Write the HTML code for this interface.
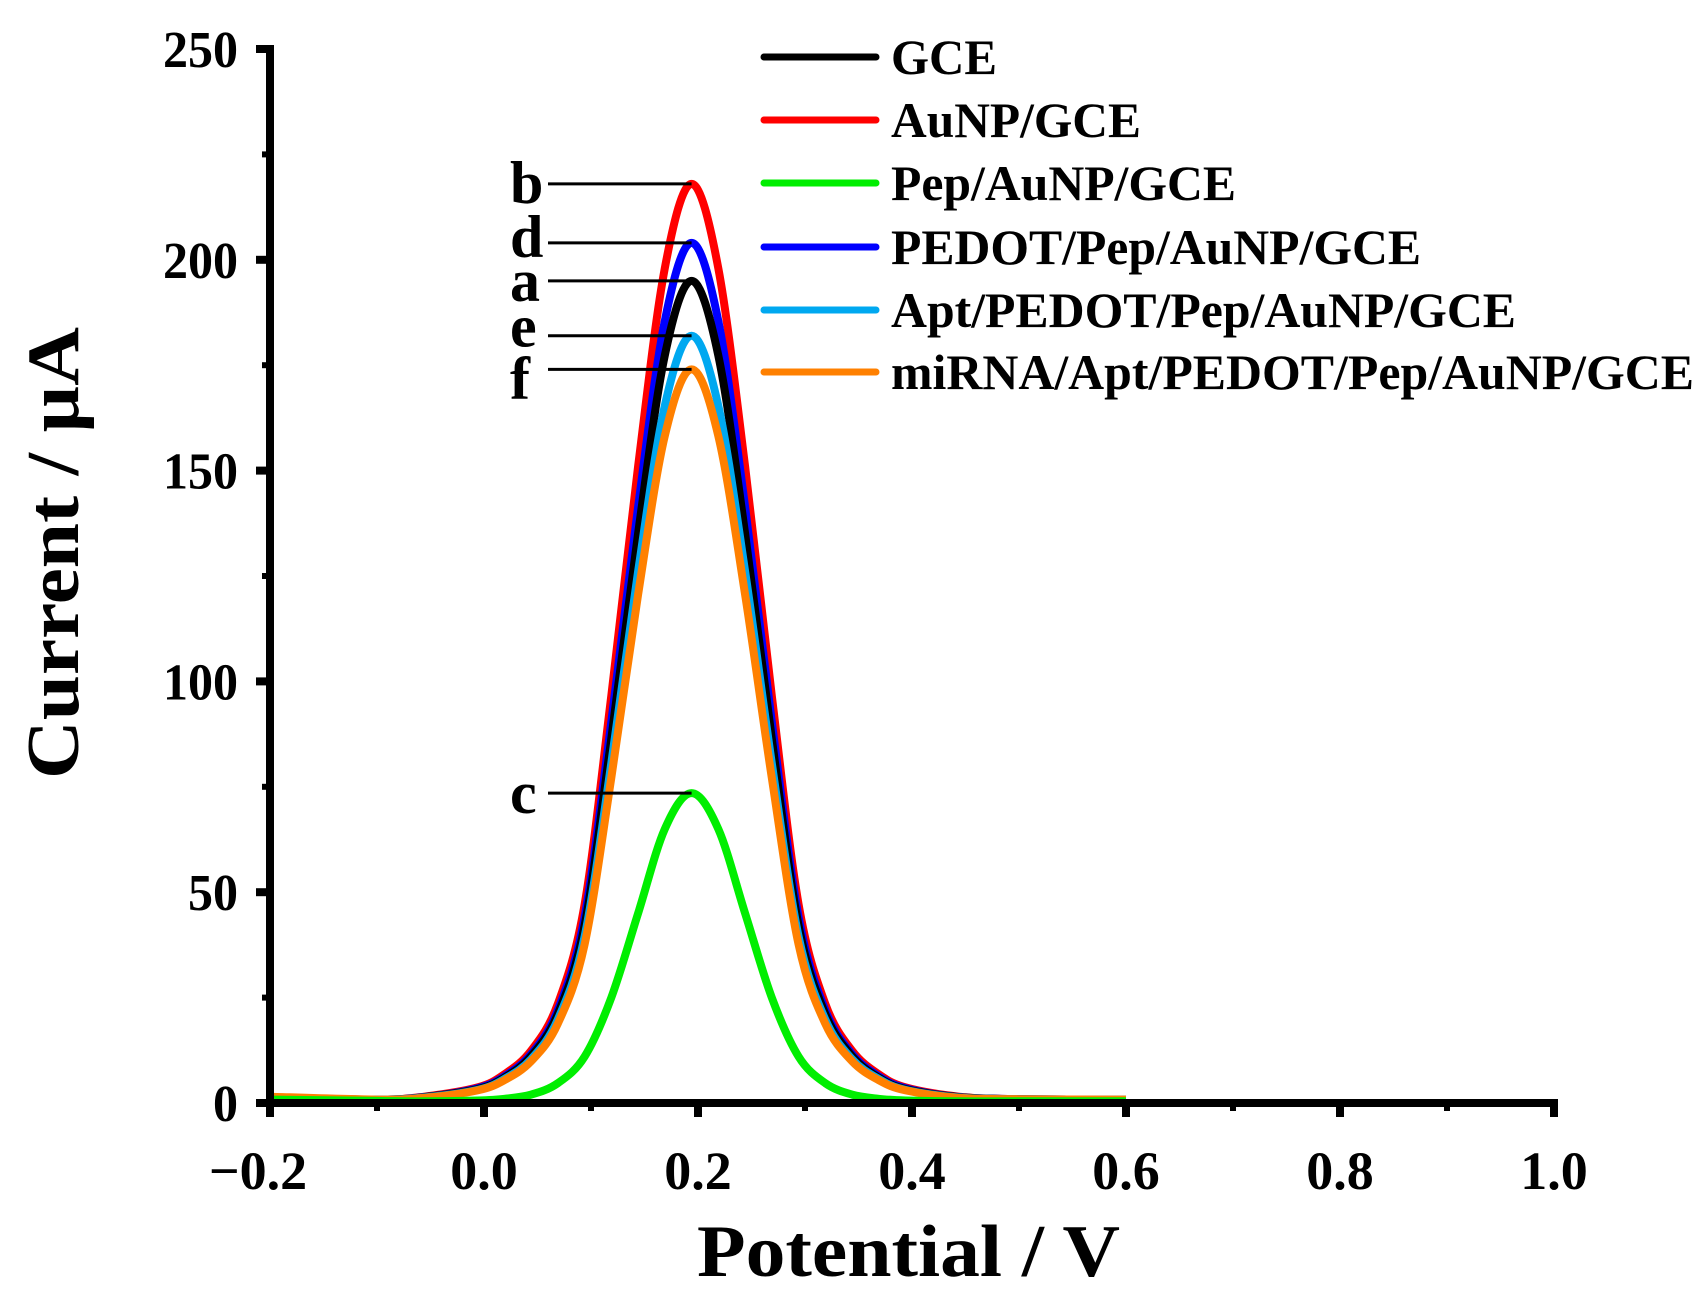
<!DOCTYPE html>
<html><head><meta charset="utf-8"><style>
html,body{margin:0;padding:0;background:#fff}
svg{display:block}
text{font-family:"Liberation Serif",serif;font-weight:bold;fill:#000}
</style></head><body>
<svg id="chart" width="1707" height="1309" viewBox="0 0 1707 1309">
<g id="plot"></g>
</svg>
<script>
const potentials = [-0.2, -0.1, -0.056, -0.006, 0.019, 0.044, 0.069, 0.094, 0.119, 0.144, 0.169, 0.194, 0.219, 0.244, 0.269, 0.294, 0.319, 0.344, 0.369, 0.394, 0.444, 0.5, 0.6];
const seriesNames = ["GCE", "AuNP/GCE", "Pep/AuNP/GCE", "PEDOT/Pep/AuNP/GCE", "Apt/PEDOT/Pep/AuNP/GCE", "miRNA/Apt/PEDOT/Pep/AuNP/GCE"];
const seriesLetters = ["a", "b", "c", "d", "e", "f"];
const seriesColors = ["#000000", "#ff0000", "#00ee00", "#0000ff", "#00a8f0", "#ff8000"];
const curA = [1.2, 0.8, 1.4, 3.3, 6.0, 11.1, 21.1, 42.1, 86.4, 135.1, 177.3, 195, 177.3, 135.1, 86.4, 42.1, 21.1, 11.1, 6.0, 3.3, 1.4, 0.9, 0.8];
const curB = [1.3, 0.8, 1.5, 3.7, 6.8, 12.4, 23.5, 47.1, 96.6, 151, 198, 218, 198, 151, 96.6, 47.1, 23.5, 12.4, 6.8, 3.7, 1.5, 0.9, 0.8];
const curC = [0.8, 0.5, 0.4, 0.6, 1.0, 2.0, 4.7, 11, 25, 45, 65, 73.5, 65, 45, 25, 11, 4.7, 2.0, 1.0, 0.6, 0.4, 0.4, 0.4];
const curD = [1.3, 0.8, 1.4, 3.5, 6.3, 11.6, 22.0, 44.1, 90.4, 141.4, 185.5, 204, 185.5, 141.4, 90.4, 44.1, 22.0, 11.6, 6.3, 3.5, 1.4, 0.9, 0.8];
const curE = [1.2, 0.8, 1.3, 3.1, 5.7, 10.4, 19.8, 39.5, 80.6, 126.1, 165.4, 182, 165.4, 126.1, 80.6, 39.5, 19.8, 10.4, 5.7, 3.1, 1.3, 0.9, 0.8];
const curF = [1.5, 0.8, 1.2, 3.0, 5.4, 9.9, 18.8, 37.6, 77.1, 120.6, 158.2, 174, 158.2, 120.6, 77.1, 37.6, 18.8, 9.9, 5.4, 3.0, 1.2, 0.9, 0.8];
const allSeries = [curA, curB, curC, curD, curE, curF];
const drawOrder = [1, 3, 0, 4, 5, 2];
const xTicks = [-0.2, 0.0, 0.2, 0.4, 0.6, 0.8, 1.0];
const xTickLabels = ["\u22120.2", "0.0", "0.2", "0.4", "0.6", "0.8", "1.0"];
const yTicks = [0, 50, 100, 150, 200, 250];
const yTickLabels = ["0", "50", "100", "150", "200", "250"];

const letterDy = [20, 19, 20, 14, 11, 29];
const X0 = 270, XS = 1070, Y0 = 1103, YS = 1054 / 250;
const xs = v => X0 + (v + 0.2) * XS;
const ys = v => Y0 - v * YS;
const NS = "http://www.w3.org/2000/svg";
const plot = document.getElementById("plot");
function mk(tag, attrs, parent) {
  const e = document.createElementNS(NS, tag);
  for (const k in attrs) e.setAttribute(k, attrs[k]);
  (parent || plot).appendChild(e);
  return e;
}
function smoothPath(pts) {
  let d = "M" + pts[0][0].toFixed(1) + "," + pts[0][1].toFixed(1);
  for (let i = 0; i < pts.length - 1; i++) {
    const p0 = pts[i - 1] || pts[i], p1 = pts[i], p2 = pts[i + 1], p3 = pts[i + 2] || p2;
    const c1 = [p1[0] + (p2[0] - p0[0]) / 6, p1[1] + (p2[1] - p0[1]) / 6];
    const c2 = [p2[0] - (p3[0] - p1[0]) / 6, p2[1] - (p3[1] - p1[1]) / 6];
    d += " C" + c1[0].toFixed(1) + "," + c1[1].toFixed(1) + " " + c2[0].toFixed(1) + "," + c2[1].toFixed(1) + " " + p2[0].toFixed(1) + "," + p2[1].toFixed(1);
  }
  return d;
}

// curves
drawOrder.forEach(i => {
  const pts = potentials.map((p, j) => [xs(p), ys(allSeries[i][j])]);
  const path = mk("path", {d: smoothPath(pts), fill: "none", stroke: seriesColors[i], "stroke-width": 8, "stroke-linejoin": "round"});
  
  
});

// axes
const axes = mk("path", {d: "M" + X0 + "," + ys(250) + " L" + X0 + "," + Y0 + " L" + xs(1.0) + "," + Y0, fill: "none", stroke: "#000", "stroke-width": 8, "stroke-linecap": "square"});


xTicks.forEach((t, i) => {
  const tk = mk("line", {x1: xs(t), x2: xs(t), y1: Y0, y2: Y0 + 14, stroke: "#000", "stroke-width": 8});
  
  
  if (i < xTicks.length - 1) {
    const mn = mk("line", {x1: xs(t + 0.1), x2: xs(t + 0.1), y1: Y0, y2: Y0 + 8, stroke: "#000", "stroke-width": 6});
    
    
  }
  const lb = mk("text", {x: xs(t) + (i === 0 ? -12 : 0), y: 1189, "font-size": 54, "text-anchor": "middle"});
  lb.textContent = xTickLabels[i];
  
  
});
yTicks.forEach((t, i) => {
  const tk = mk("line", {x1: X0 - 14, x2: X0, y1: ys(t), y2: ys(t), stroke: "#000", "stroke-width": 8});
  
  
  if (i < yTicks.length - 1) {
    const mn = mk("line", {x1: X0 - 8, x2: X0, y1: ys(t + 25), y2: ys(t + 25), stroke: "#000", "stroke-width": 6});
    
    
  }
  const lb = mk("text", {x: 238, y: ys(t) + 18, "font-size": 52, "text-anchor": "end", textLength: 25 * yTickLabels[i].length, lengthAdjust: "spacingAndGlyphs"});
  lb.textContent = yTickLabels[i];
  
  
});

const xt = mk("text", {x: 697, y: 1276, "font-size": 74, textLength: 423, lengthAdjust: "spacingAndGlyphs"});
xt.textContent = "Potential / V";


const yt = mk("text", {x: 0, y: 0, "font-size": 74, "text-anchor": "middle", transform: "translate(78,553) rotate(-90)", textLength: 452, lengthAdjust: "spacingAndGlyphs"});
yt.textContent = "Current / \u00b5A";



// peak annotations
allSeries.forEach((s, i) => {
  const peak = Math.max(...s);
  const py = ys(peak);
  const pk = potentials[s.indexOf(peak)];
  const ln = mk("line", {x1: 548, x2: xs(pk), y1: py, y2: py, stroke: "#000", "stroke-width": 3});
  
  
  const lt = mk("text", {x: 510, y: py + letterDy[i], "font-size": 60});
  lt.textContent = seriesLetters[i];
  
  
});

// legend
const legendRows = [57, 120, 183, 247, 310, 372];
const legendWidths = [106, 250, 345, 530, 625, 803];
const legend = mk("g", {});


seriesNames.forEach((n, i) => {
  const y = legendRows[i];
  const l = mk("line", {x1: 764, x2: 876, y1: y, y2: y, stroke: seriesColors[i], "stroke-width": 7, "stroke-linecap": "round"}, legend);
  
  
  const t = mk("text", {x: 891, y: y + 17, "font-size": 50, textLength: legendWidths[i], lengthAdjust: "spacingAndGlyphs"}, legend);
  t.textContent = n;
  
  
});
</script>
</body></html>
